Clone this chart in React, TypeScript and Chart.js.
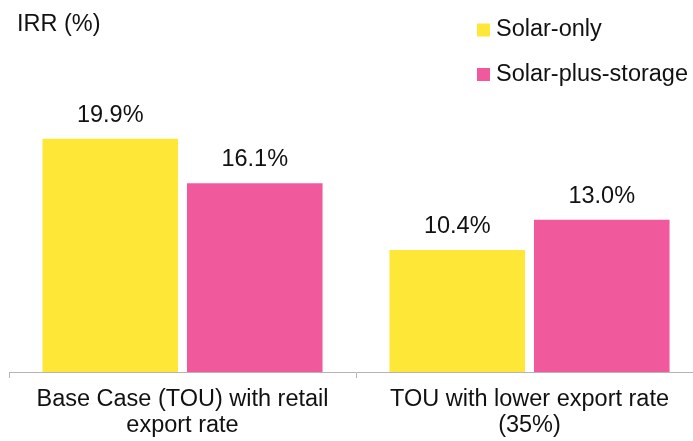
import React, { useEffect, useRef } from "react";
import { Chart, registerables } from "chart.js";

Chart.register(...registerables);

const categories: string[][] = [
  ["Base Case (TOU) with retail", "export rate"],
  ["TOU with lower export rate", "(35%)"],
];
const seriesNames = ["Solar-only", "Solar-plus-storage"];
const solarOnly = [19.9, 10.4];
const solarPlusStorage = [16.1, 13.0];
const yAxisTitle = "IRR (%)";

const YELLOW = "#FFE737";
const PINK = "#F05A9C";
const GRAY = "#B4B4B4";
const FONT = "Liberation Sans, Arial, sans-serif";

const overlayPlugin = {
  id: "overlay",
  afterDatasetsDraw(chart: any) {
    const ctx = chart.ctx;
    ctx.save();
    ctx.fillStyle = "#111";
    ctx.font = `23.5px ${FONT}`;
    ctx.textAlign = "center";
    ctx.textBaseline = "alphabetic";
    chart.data.datasets.forEach((ds: any, di: number) => {
      const meta = chart.getDatasetMeta(di);
      meta.data.forEach((bar: any, i: number) => {
        ctx.fillText(ds.data[i].toFixed(1) + "%", bar.x, bar.y - 17);
      });
    });
    // y axis title
    ctx.textAlign = "left";
    ctx.fillText(yAxisTitle, 17, 31);
    // legend
    const colors = [YELLOW, PINK];
    seriesNames.forEach((name, i) => {
      const baseY = 36 + i * 44.5;
      ctx.fillStyle = colors[i];
      ctx.fillRect(477, baseY - 12.5, 13, 13);
      ctx.fillStyle = "#111";
      ctx.fillText(name, 496, baseY);
    });
    ctx.restore();
  },
};

export default function App() {
  const ref = useRef<HTMLCanvasElement>(null);
  useEffect(() => {
    if (!ref.current) return;
    const chart = new Chart(ref.current, {
      type: "bar",
      data: {
        labels: categories,
        datasets: [
          {
            label: seriesNames[0],
            data: solarOnly,
            backgroundColor: YELLOW,
            categoryPercentage: 0.833,
            barPercentage: 0.938,
          },
          {
            label: seriesNames[1],
            data: solarPlusStorage,
            backgroundColor: PINK,
            categoryPercentage: 0.833,
            barPercentage: 0.938,
          },
        ],
      },
      options: {
        animation: false,
        responsive: false,
        devicePixelRatio: 1,
        layout: { padding: { left: 9, right: 17, top: 79, bottom: 0 } },
        plugins: {
          legend: { display: false },
          tooltip: { enabled: false },
          title: { display: false },
        },
        scales: {
          y: { display: false, min: 0, max: 25 },
          x: {
            afterFit: (scale: any) => {
              scale.height = 69;
            },
            grid: {
              display: true,
              drawOnChartArea: false,
              drawTicks: true,
              tickLength: 6,
              color: GRAY,
              offset: true,
            },
            border: { display: true, color: GRAY, width: 1 },
            ticks: {
              color: "#111",
              padding: 9,
              maxRotation: 0,
              autoSkip: false,
              font: { family: FONT, size: 23.5, lineHeight: 1.09 },
            },
          },
        },
      },
      plugins: [overlayPlugin],
    });
    return () => chart.destroy();
  }, []);
  return (
    <div
      style={{
        position: "absolute",
        left: 0,
        top: 0,
        width: 693,
        height: 441,
        overflow: "hidden",
        background: "#fff",
      }}
    >
      <canvas ref={ref} width={720} height={441} style={{ display: "block" }} />
    </div>
  );
}
